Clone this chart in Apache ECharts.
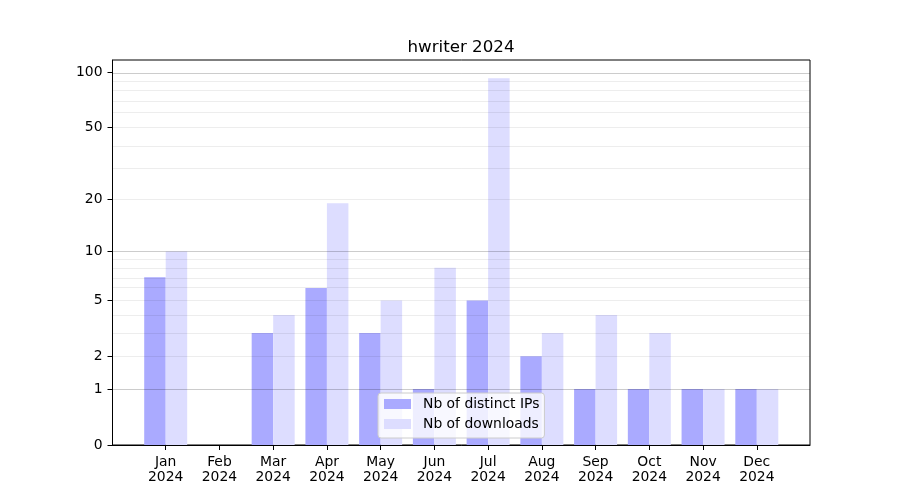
<!DOCTYPE html>
<html>
<head>
<meta charset="utf-8">
<script src="https://cdn.jsdelivr.net/npm/echarts@6/dist/echarts.min.js"></script>
<style>html,body{margin:0;padding:0;background:#fff}#c{width:900px;height:500px}</style>
</head>
<body>
<div id="c"></div>
<script>
const months = ['Jan','Feb','Mar','Apr','May','Jun','Jul','Aug','Sep','Oct','Nov','Dec'];
const yearLabel = '2024';
const ipValues = [7, 0, 3, 6, 3, 1, 5, 2, 1, 1, 1, 1];
const downloadValues = [10, 0, 4, 19, 5, 8, 93, 3, 4, 3, 1, 1];
const yTickValues = [0, 1, 2, 5, 10, 20, 50, 100];
const majorGrid = [1, 10, 100];
const minorGrid = [2, 3, 4, 5, 6, 7, 8, 9, 20, 30, 40, 50, 60, 70, 80, 90];

const t = v => Math.log10(1 + v);
const inv = v => Math.round(Math.pow(10, v) - 1);
const dataMax = Math.max(...ipValues, ...downloadValues);
const yMax = t(dataMax) * 1.05;
const xMin = -0.4 - 0.05 * 11.8, xMax = 11.4 + 0.05 * 11.8;
const plotW = 900 * 0.775;
const barPx = 0.4 * plotW / (xMax - xMin);
const font = 'DejaVu Sans';

const chart = echarts.init(document.getElementById('c'), null, {renderer: 'canvas'});
const gridLines = majorGrid.map(v => ({yAxis: t(v), lineStyle: {color: 'rgba(0,0,0,0.2)', width: 1, type: 'solid'}}))
  .concat(minorGrid.map(v => ({yAxis: t(v), lineStyle: {color: 'rgba(0,0,0,0.07)', width: 1, type: 'solid'}})));

chart.setOption({
  animation: false,
  backgroundColor: '#fff',
  title: {
    text: 'hwriter 2024', left: 456, top: 34, textAlign: 'center',
    textStyle: {fontFamily: font, fontSize: 16.7, fontWeight: 'normal', color: '#000'}
  },
  grid: {left: 112.5, right: 90, top: 60, bottom: 55, show: true, borderColor: '#000', borderWidth: 1, backgroundColor: 'transparent'},
  legend: {
    orient: 'vertical', left: 378, top: 393,
    padding: [3, 5, 6, 6], itemGap: 4, itemWidth: 27, itemHeight: 10,
    backgroundColor: 'rgba(255,255,255,0.8)', borderColor: '#cccccc', borderWidth: 1, borderRadius: 3,
    icon: 'rect',
    textStyle: {fontFamily: font, fontSize: 13.9, color: '#000', lineHeight: 16, padding: [0, 0, 0, 7]},
    data: ['Nb of distinct IPs', 'Nb of downloads'],
    z: 10
  },
  xAxis: {
    type: 'value', min: xMin, max: xMax,
    axisLine: {show: true, onZero: false, lineStyle: {color: '#000', width: 1}},
    axisTick: {show: true, length: 5, lineStyle: {color: '#000'}, customValues: months.map((m, i) => i)},
    axisLabel: {
      customValues: months.map((m, i) => i), margin: 10,
      fontFamily: font, fontSize: 13.9, color: '#000', lineHeight: 15,
      formatter: v => months[Math.round(v)] + '\n' + yearLabel
    },
    splitLine: {show: false}
  },
  yAxis: {
    type: 'value', min: 0, max: yMax,
    axisLine: {show: true, onZero: false, lineStyle: {color: '#000', width: 1}},
    axisTick: {show: true, length: 5, lineStyle: {color: '#000'}, customValues: yTickValues.map(t)},
    axisLabel: {
      customValues: yTickValues.map(t), margin: 10,
      fontFamily: font, fontSize: 13.9, color: '#000',
      formatter: v => String(inv(v))
    },
    splitLine: {show: false}
  },
  series: [
    {
      name: 'Nb of distinct IPs', type: 'bar', barWidth: barPx, barGap: '0%',
      itemStyle: {color: '#aaaaff'}, z: 2,
      data: ipValues.map((v, i) => [i, t(v)])
    },
    {
      name: 'Nb of downloads', type: 'bar', barWidth: barPx, barGap: '0%',
      itemStyle: {color: '#ddddff'}, z: 2,
      data: downloadValues.map((v, i) => [i, t(v)])
    },
    {
      name: 'grid', type: 'line', data: [], z: 5, silent: true,
      markLine: {silent: true, symbol: 'none', label: {show: false}, animation: false, data: gridLines}
    }
  ]
});
</script>
</body>
</html>
